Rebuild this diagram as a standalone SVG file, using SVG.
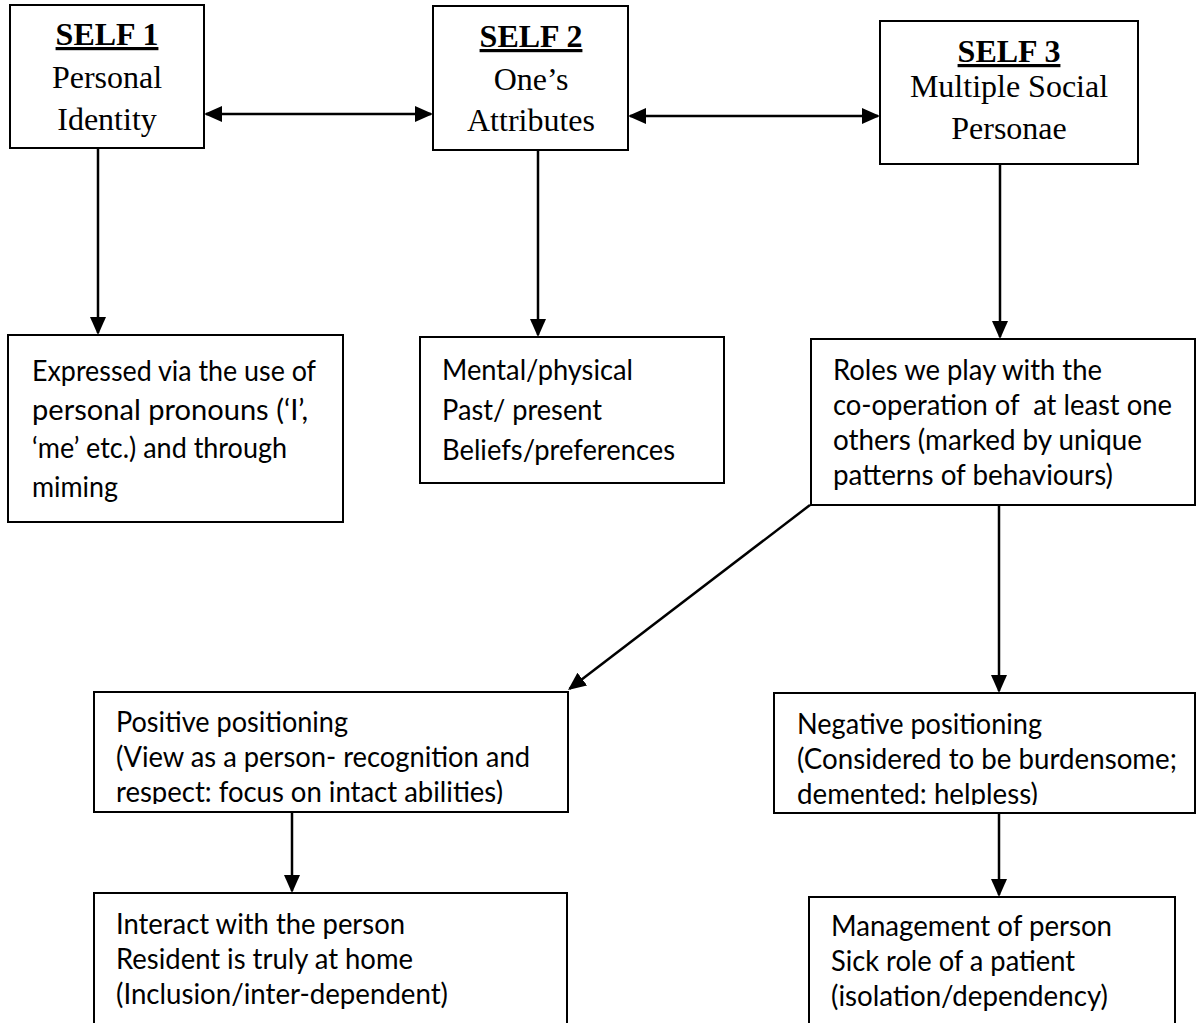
<svg xmlns="http://www.w3.org/2000/svg" width="1196" height="1023" viewBox="0 0 1196 1023">
  <style>
    .box { fill: #ffffff; stroke: #000000; stroke-width: 2; }
    .title { font-family: "Liberation Serif", "Times New Roman", serif; font-size: 32px; font-weight: bold; text-anchor: middle; text-decoration: underline; fill: #000; }
    .sub { font-family: "Liberation Serif", "Times New Roman", serif; font-size: 32px; text-anchor: middle; fill: #000; }
    .body { font-family: "Lato", "Carlito", "Liberation Sans", sans-serif; font-size: 28px; fill: #000; white-space: pre; }
    .conn { stroke: #000000; stroke-width: 2.5; fill: none; }
  </style>
  <defs>
    <marker id="arrow" viewBox="0 0 18 16" refX="16" refY="8" markerWidth="18" markerHeight="16" markerUnits="userSpaceOnUse" orient="auto-start-reverse">
      <path d="M0,0 L18,8 L0,16 Z" fill="#000000"/>
    </marker>
    <clipPath id="clipPos"><rect x="94" y="692" width="474" height="112"/></clipPath>
    <clipPath id="clipNeg"><rect x="774" y="693" width="422" height="112"/></clipPath>
  </defs>
  <rect width="1196" height="1023" fill="#ffffff"/>

  <g id="connectors">
    <line class="conn" x1="206" y1="114" x2="431" y2="114" marker-start="url(#arrow)" marker-end="url(#arrow)"/>
    <line class="conn" x1="630" y1="116" x2="878" y2="116" marker-start="url(#arrow)" marker-end="url(#arrow)"/>
    <line class="conn" x1="98" y1="148" x2="98" y2="333" marker-end="url(#arrow)"/>
    <line class="conn" x1="538" y1="150" x2="538" y2="335" marker-end="url(#arrow)"/>
    <line class="conn" x1="1000" y1="164" x2="1000" y2="337" marker-end="url(#arrow)"/>
    <line class="conn" x1="999" y1="505" x2="999" y2="691" marker-end="url(#arrow)"/>
    <line class="conn" x1="810" y1="505" x2="569.6" y2="688.8" marker-end="url(#arrow)"/>
    <line class="conn" x1="292" y1="812" x2="292" y2="891" marker-end="url(#arrow)"/>
    <line class="conn" x1="999" y1="813" x2="999" y2="895" marker-end="url(#arrow)"/>
  </g>

  <g id="self1">
    <rect class="box" x="10" y="5" width="194" height="143"/>
    <text class="title" x="107" y="45">SELF 1</text>
    <text class="sub" x="107" y="88">Personal</text>
    <text class="sub" x="107" y="130">Identity</text>
  </g>

  <g id="self2">
    <rect class="box" x="433" y="6" width="195" height="144"/>
    <text class="title" x="531" y="47">SELF 2</text>
    <text class="sub" x="531" y="90">One’s</text>
    <text class="sub" x="531" y="131">Attributes</text>
  </g>

  <g id="self3">
    <rect class="box" x="880" y="21" width="258" height="143"/>
    <text class="title" x="1009" y="62">SELF 3</text>
    <text class="sub" x="1009" y="97">Multiple Social</text>
    <text class="sub" x="1009" y="139">Personae</text>
  </g>

  <g id="expressed">
    <rect class="box" x="8" y="335" width="335" height="187"/>
    <text class="body" x="32" y="381" textLength="284" lengthAdjust="spacingAndGlyphs">Expressed via the use of</text>
    <text class="body" x="32" y="419.5" textLength="276" lengthAdjust="spacingAndGlyphs">personal pronouns (‘I’,</text>
    <text class="body" x="32" y="458" textLength="255" lengthAdjust="spacingAndGlyphs">‘me’ etc.) and through</text>
    <text class="body" x="32" y="496.5" textLength="86" lengthAdjust="spacingAndGlyphs">miming</text>
  </g>

  <g id="attributes">
    <rect class="box" x="420" y="337" width="304" height="146"/>
    <text class="body" x="442" y="380" textLength="191" lengthAdjust="spacingAndGlyphs">Mental/physical</text>
    <text class="body" x="442" y="420" textLength="160" lengthAdjust="spacingAndGlyphs">Past/ present</text>
    <text class="body" x="442" y="460" textLength="233" lengthAdjust="spacingAndGlyphs">Beliefs/preferences</text>
  </g>

  <g id="roles">
    <rect class="box" x="811" y="339" width="384" height="166"/>
    <text class="body" x="833" y="380" textLength="269" lengthAdjust="spacingAndGlyphs">Roles we play with the</text>
    <text class="body" x="833" y="415" textLength="339" lengthAdjust="spacingAndGlyphs">co-operation of  at least one</text>
    <text class="body" x="833" y="450" textLength="309" lengthAdjust="spacingAndGlyphs">others (marked by unique</text>
    <text class="body" x="833" y="485" textLength="280" lengthAdjust="spacingAndGlyphs">patterns of behaviours)</text>
  </g>

  <g id="positive">
    <rect class="box" x="94" y="692" width="474" height="120"/>
    <text class="body" x="116" y="732" textLength="232" lengthAdjust="spacingAndGlyphs">Positive positioning</text>
    <text class="body" x="116" y="767" textLength="414" lengthAdjust="spacingAndGlyphs">(View as a person- recognition and</text>
    <text class="body" x="116" y="802" textLength="387" lengthAdjust="spacingAndGlyphs" clip-path="url(#clipPos)">respect: focus on intact abilities)</text>
  </g>

  <g id="interact">
    <rect class="box" x="94" y="893" width="473" height="140"/>
    <text class="body" x="116" y="934" textLength="289" lengthAdjust="spacingAndGlyphs">Interact with the person</text>
    <text class="body" x="116" y="969" textLength="297" lengthAdjust="spacingAndGlyphs">Resident is truly at home</text>
    <text class="body" x="116" y="1004" textLength="332" lengthAdjust="spacingAndGlyphs">(Inclusion/inter-dependent)</text>
  </g>

  <g id="negative">
    <rect class="box" x="774" y="693" width="421" height="120"/>
    <text class="body" x="797" y="734" textLength="245" lengthAdjust="spacingAndGlyphs">Negative positioning</text>
    <text class="body" x="797" y="769" textLength="380" lengthAdjust="spacingAndGlyphs">(Considered to be burdensome;</text>
    <text class="body" x="797" y="804" textLength="241" lengthAdjust="spacingAndGlyphs" clip-path="url(#clipNeg)">demented: helpless)</text>
  </g>

  <g id="management">
    <rect class="box" x="809" y="897" width="366" height="140"/>
    <text class="body" x="831" y="936" textLength="281" lengthAdjust="spacingAndGlyphs">Management of person</text>
    <text class="body" x="831" y="971" textLength="244" lengthAdjust="spacingAndGlyphs">Sick role of a patient</text>
    <text class="body" x="831" y="1006" textLength="277" lengthAdjust="spacingAndGlyphs">(isolation/dependency)</text>
  </g>
</svg>
